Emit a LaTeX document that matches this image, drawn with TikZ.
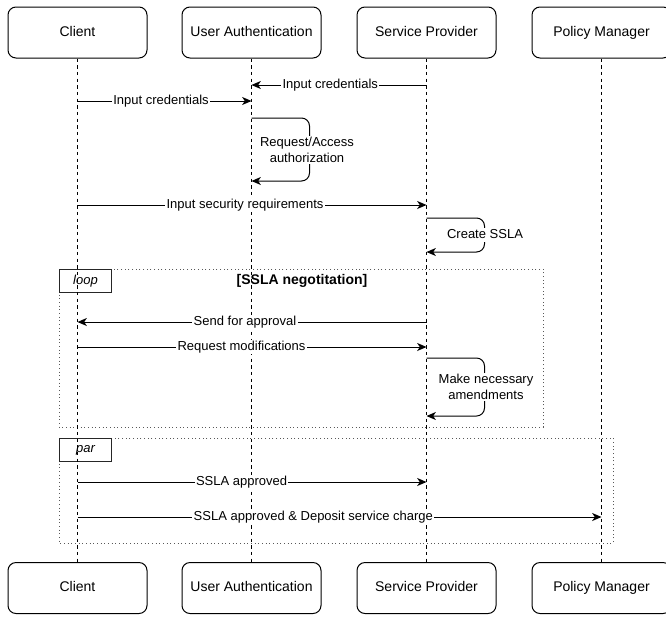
\documentclass[tikz,border=0pt]{standalone}
\usepackage{fontspec}
\setmainfont{Liberation Sans}
\usepackage{tikz}
\usetikzlibrary{arrows.meta}

\tikzset{
  actor/.style={draw,rounded corners=6pt,line width=0.75pt,minimum width=104.25pt,
    minimum height=38.25pt,text height=7.6pt,text depth=2.2pt,
    font=\fontsize{10.5}{12}\selectfont},
  lifeline/.style={dashed,dash pattern=on 2.5pt off 2.5pt,line width=0.75pt},
  msg/.style={-{Stealth[length=7pt,width=6pt,inset=2pt]},line width=0.75pt},
  lbl/.style={fill=white,inner sep=1pt,text height=7pt,text depth=2pt,
    font=\fontsize{9.75}{11.5}\selectfont},
  note/.style={fill=white,inner sep=1pt,align=center,font=\fontsize{9.75}{11.5}\selectfont},
  frame/.style={dotted,gray!70!black,line width=0.75pt},
  tag/.style={draw,gray!30!black,line width=0.75pt,fill=white,minimum width=39pt,
    minimum height=17.25pt,inner sep=0pt,anchor=north west,
    font=\fontsize{9.75}{11.5}\selectfont\itshape,text=black}
}

\begin{document}
\begin{tikzpicture}[x=0.75pt,y=-0.75pt]
    \useasboundingbox (0,0) rectangle (666,618);

    % participants
    \node[actor] (client) at (77.5,32.5) {Client};
    \node[actor] (auth) at (251.5,32.5) {User Authentication};
    \node[actor] (prov) at (426.5,32.5) {Service Provider};
    \node[actor] (pol) at (601.5,32.5) {Policy Manager};
    \node[actor] (clientB) at (77.5,588) {Client};
    \node[actor] (authB) at (251.5,588) {User Authentication};
    \node[actor] (provB) at (426.5,588) {Service Provider};
    \node[actor] (polB) at (601.5,588) {Policy Manager};

    % frames
    \draw[frame] (59,269) rectangle (543,427);
    \node[tag] (loopTag) at (59,269) {loop};
    \node[font=\fontsize{10.5}{12}\selectfont\bfseries] (loopCond) at (302,281) {[SSLA negotitation]};
    \draw[frame] (59,438) rectangle (613,543);
    \node[tag] (parTag) at (59,438) {par};

    \draw[lifeline] (client) -- (clientB);
    \draw[lifeline] (auth) -- (authB);
    \draw[lifeline] (prov) -- (provB);
    \draw[lifeline] (pol) -- (polB);

    % messages
    \coordinate (p1) at (426.5,85);   \coordinate (a1) at (251.5,85);
    \coordinate (c2) at (77.5,101);   \coordinate (a2) at (251.5,101);
    \coordinate (a3) at (251.5,118);  \coordinate (a4) at (251.5,181);
    \coordinate (c5) at (77.5,205);   \coordinate (p5) at (426.5,205);
    \coordinate (p6) at (426.5,218);  \coordinate (p7) at (426.5,252);
    \coordinate (p8) at (426.5,322);  \coordinate (c8) at (77.5,322);
    \coordinate (c9) at (77.5,347);   \coordinate (p9) at (426.5,347);
    \coordinate (p10) at (426.5,358); \coordinate (p11) at (426.5,416);
    \coordinate (c12) at (77.5,482);  \coordinate (p12) at (426.5,482);
    \coordinate (c13) at (77.5,517);  \coordinate (m13) at (601.5,517);

    \draw[msg] (p1) -- (a1) node[lbl,pos=0.55] {Input credentials};
    \draw[msg] (c2) -- (a2) node[lbl,pos=0.48] {Input credentials};
    \draw[msg,rounded corners=6pt] (a3) -- ++(58,0) -- ++(0,63) -- (a4);
    \node[note] (authz) at (307,150) {Request/Access\\authorization};
    \draw[msg] (c5) -- (p5) node[lbl,pos=0.48] {Input security requirements};
    \draw[msg,rounded corners=6pt] (p6) -- ++(58,0) -- ++(0,34) -- (p7);
    \node[lbl] (create) at (485,235) {Create SSLA};
    \draw[msg] (p8) -- (c8) node[lbl,pos=0.52] {Send for approval};
    \draw[msg] (c9) -- (p9) node[lbl,pos=0.47] {Request modifications};
    \draw[msg,rounded corners=6pt] (p10) -- ++(58,0) -- ++(0,58) -- (p11);
    \node[note] (amend) at (486,387) {Make necessary\\amendments};
    \draw[msg] (c12) -- (p12) node[lbl,pos=0.47] {SSLA approved};
    \draw[msg] (c13) -- (m13) node[lbl,pos=0.45] {SSLA approved \& Deposit service charge};
\end{tikzpicture}
\end{document}
